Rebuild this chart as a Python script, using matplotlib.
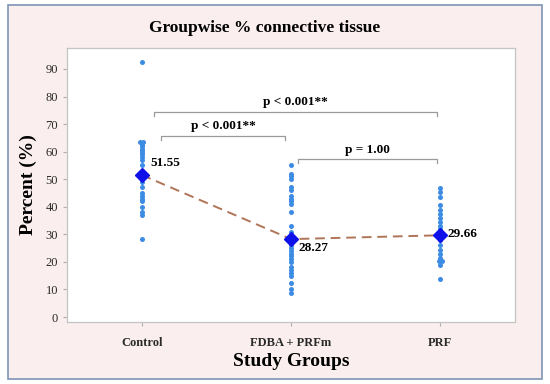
import numpy as np
import matplotlib.pyplot as plt
from matplotlib.patches import Rectangle

# Data
groups = ['Control', 'FDBA + PRFm', 'PRF']
control = [92.5, 63.5, 63.5, 62.5, 62, 61, 60.5, 60, 59, 58, 57, 55, 53, 52,
           50, 49, 47, 45, 44, 43, 42, 40, 38, 37, 28.3]
fdba_prfm = [55, 52, 51, 50, 47, 46, 44, 43, 42, 41, 38, 33, 31, 29, 28, 27,
             26, 25, 24, 23, 22, 21, 20, 18, 17, 16, 15, 12.3, 10, 8.8]
prf = [46.8, 45.2, 43.5, 40.6, 39, 37.5, 36, 34.5, 33, 32, 30.5, 29.4, 28,
       26, 24.5, 23, 21.4, 20.3, 20.3, 18.9, 13.8]
means = [51.55, 28.27, 29.66]
pvals = ['p < 0.001**', 'p < 0.001**', 'p = 1.00']

serif = ['Liberation Serif', 'DejaVu Serif']
plt.rcParams['font.family'] = serif

fig = plt.figure(figsize=(5.5, 3.84), dpi=100)
fig.patch.set_facecolor('white')
# outer pink panel with blue-gray border
fig.add_artist(Rectangle((8 / 550, 5 / 384), 534 / 550, 374 / 384,
                         transform=fig.transFigure, facecolor='#faeeee',
                         edgecolor='#7d95b5', linewidth=1.2, zorder=-5))

ax = fig.add_axes([67 / 550, 62 / 384, 448 / 550, 274 / 384])
ax.set_facecolor('white')
for s in ax.spines.values():
    s.set_color('#c4c4c4')
    s.set_linewidth(0.9)


def jitter(vals, width=0.016):
    # duplicates go side by side, like an individual value plot
    vals = np.asarray(vals, dtype=float)
    offs = np.zeros(len(vals))
    seen = {}
    for i, v in enumerate(vals):
        key = round(v * 2) / 2
        seen.setdefault(key, []).append(i)
    for idx in seen.values():
        if len(idx) > 1:
            offs[idx] = (np.arange(len(idx)) - (len(idx) - 1) / 2) * width
    return offs


x = np.arange(1, 4)
for xi, vals in zip(x, [control, fdba_prfm, prf]):
    ax.scatter(xi + jitter(vals), vals, s=13, color='#3d8ce3', zorder=2,
               linewidths=0)

ax.plot(x, means, ls=(0, (5, 3)), color='#b07458', lw=1.4, zorder=3)
ax.plot(x, means, 'D', color='#1010e8', ms=7, zorder=4)

lab_off = [(0.06, 4.5), (0.05, -3.3), (0.05, 0.4)]
for xi, m, (dx, dy) in zip(x, means, lab_off):
    ax.text(xi + dx, m + dy, f'{m:.2f}', fontsize=9.5, fontweight='bold',
            va='center', ha='left', zorder=5)

# significance brackets
br_y = [74.4, 65.7, 57.3]
br_x = [(1.08, 2.98), (1.127, 1.963), (2.05, 2.98)]
for (x0, x1), yb, p in zip(br_x, br_y, pvals):
    ax.plot([x0, x0, x1, x1], [yb - 1.6, yb, yb, yb - 1.6], color='#9a9a9a',
            lw=0.9, zorder=1)
    ax.text((x0 + x1) / 2, yb + 1.3, p, ha='center', va='bottom',
            fontsize=9.5, fontweight='bold')

ax.set_xlim(0.5, 3.5)
ax.set_ylim(-1.8, 97.6)
ax.set_yticks(range(0, 91, 10))
ax.set_xticks(x)
ax.set_xticklabels(groups, fontweight='bold')
ax.tick_params(axis='both', colors='#b0b0b0', length=3, width=0.8,
               labelsize=9, labelcolor='#2a2a2a')
ax.tick_params(axis='x', pad=8)

ax.set_ylabel('Percent (%)', fontsize=14, fontweight='bold', labelpad=6)
ax.set_xlabel('Study Groups', fontsize=14, fontweight='bold', labelpad=3)
fig.text(0.482, 0.927, 'Groupwise % connective tissue', ha='center',
         va='center', fontsize=12.5, fontweight='bold')

fig.savefig('out.png', dpi=100)
